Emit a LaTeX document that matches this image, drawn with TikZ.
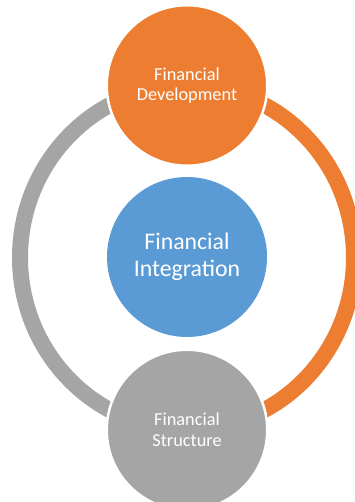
\documentclass[tikz,border=0pt]{standalone}
\usepackage{fontspec}
\setmainfont{Carlito}
\definecolor{orng}{HTML}{ED7D31}
\definecolor{blu}{HTML}{5B9BD5}
\definecolor{gry}{HTML}{A5A5A5}
\begin{document}
\begin{tikzpicture}[x=1pt,y=1pt,
  bubble/.style={circle,draw=white,line width=2.5pt,minimum size=160.5pt,inner sep=0pt,text=white,align=center},
  smalltext/.style={font=\fontsize{18.3}{20.7}\selectfont},
  bigtext/.style={font=\fontsize{23.8}{27}\selectfont},
  ringarc/.style={line width=16pt}]
\useasboundingbox (0,0) rectangle (355,502);
\clip (0,0) rectangle (355,502);
\coordinate (ctr) at (187,244.5);
\draw[ringarc,gry] ([yshift=172pt]ctr) arc[start angle=90,end angle=270,x radius=167,y radius=172];
\draw[ringarc,orng] ([yshift=172pt]ctr) arc[start angle=90,end angle=-90,x radius=167,y radius=172];
\node[bubble,fill=orng,smalltext] (dev) at (187,416.5) {Financial\\Development};
\node[bubble,fill=blu,bigtext,draw=none,minimum size=160pt] (int) at (187,245) {Financial\\Integration};
\node[bubble,fill=gry,smalltext] (str) at (187,72) {Financial\\Structure};
\end{tikzpicture}
\end{document}
